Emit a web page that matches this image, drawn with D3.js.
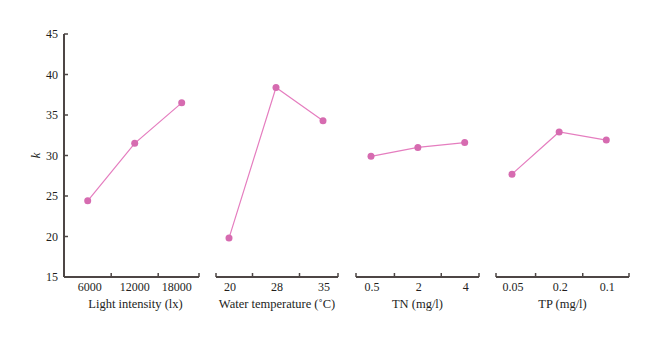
<!DOCTYPE html>
<html><head><meta charset="utf-8">
<script src="https://cdn.jsdelivr.net/npm/d3@7"></script>
<style>body{margin:0;background:#fff}svg{display:block}text{font-family:"Liberation Serif","DejaVu Serif",serif;fill:#231e1c}</style>
</head><body>
<script>
const yTicks = [15, 20, 25, 30, 35, 40, 45];
const lightCats = ["6000", "12000", "18000"];
const lightVals = [24.4, 31.5, 36.5];
const tempCats = ["20", "28", "35"];
const tempVals = [19.8, 38.4, 34.3];
const tnCats = ["0.5", "2", "4"];
const tnVals = [29.9, 31.0, 31.6];
const tpCats = ["0.05", "0.2", "0.1"];
const tpVals = [27.7, 32.9, 31.9];
const titles = ["Light intensity (lx)", "Water temperature (\u02DAC)", "TN (mg/l)", "TP (mg/l)"];

const W = 660, H = 343;
const axisColor = "#4d4645", pink = "#e57dbf", dot = "#d66bb0";
const svg = d3.select("body").append("svg").attr("width", W).attr("height", H);

const y = d3.scaleLinear().domain([15, 45]).range([277, 34]);

// y axis
const yg = svg.append("g");
yg.append("line").attr("x1", 64).attr("x2", 64).attr("y1", y(45)).attr("y2", y(15))
  .attr("stroke", axisColor).attr("stroke-width", 2);
yTicks.forEach(t => {
  yg.append("line").attr("x1", 64).attr("x2", 68).attr("y1", y(t)).attr("y2", y(t))
    .attr("stroke", axisColor).attr("stroke-width", 1.5);
  yg.append("text").attr("x", 58).attr("y", y(t) + 4).attr("text-anchor", "end")
    .attr("font-size", 12).text(t);
});
svg.append("text").attr("transform", `translate(40,${y(30)}) rotate(-90)`)
  .attr("text-anchor", "middle").attr("font-style", "italic").attr("font-size", 12.5).text("k");

const panels = [
  {cats: lightCats, vals: lightVals, x0: 64, x1: 199, p0: 87.7, p1: 181.7},
  {cats: tempCats, vals: tempVals, x0: 216, x1: 338, p0: 229, p1: 323},
  {cats: tnCats, vals: tnVals, x0: 356, x1: 479, p0: 371, p1: 464.7},
  {cats: tpCats, vals: tpVals, x0: 496, x1: 629, p0: 512, p1: 606.3}
];

panels.forEach((p, k) => {
  const x = d3.scalePoint().domain(p.cats).range([p.p0, p.p1]);
  const g = svg.append("g");
  const base = y(15);
  g.append("line").attr("x1", p.x0).attr("x2", p.x1).attr("y1", base).attr("y2", base)
    .attr("stroke", axisColor).attr("stroke-width", 2);
  const tickXs = [p.x0, p.x1];
  for (let i = 0; i < p.cats.length - 1; i++) tickXs.push((x(p.cats[i]) + x(p.cats[i + 1])) / 2);
  tickXs.forEach(tx => {
    g.append("line").attr("x1", tx).attr("x2", tx).attr("y1", base).attr("y2", base - 4)
      .attr("stroke", axisColor).attr("stroke-width", 1.5);
  });
  p.cats.forEach((c, i) => {
    const off = k === 0 ? [2, 0, -5][i] : 1;
    g.append("text").attr("x", x(c) + off).attr("y", base + 14).attr("text-anchor", "middle")
      .attr("font-size", 12).text(c);
  });
  g.append("text").attr("x", (p.x0 + p.x1) / 2 + (k === 0 ? 4 : 0)).attr("y", base + 31)
    .attr("text-anchor", "middle").attr("font-size", 12.5).text(titles[k]);
  const data = p.cats.map((c, i) => ({c, v: p.vals[i]}));
  g.append("path").datum(data)
    .attr("d", d3.line().x(d => x(d.c)).y(d => y(d.v)))
    .attr("fill", "none").attr("stroke", pink).attr("stroke-width", 1.2);
  g.selectAll("circle").data(data).join("circle")
    .attr("cx", d => x(d.c)).attr("cy", d => y(d.v)).attr("r", 3.5).attr("fill", dot);
});
</script>
</body></html>
